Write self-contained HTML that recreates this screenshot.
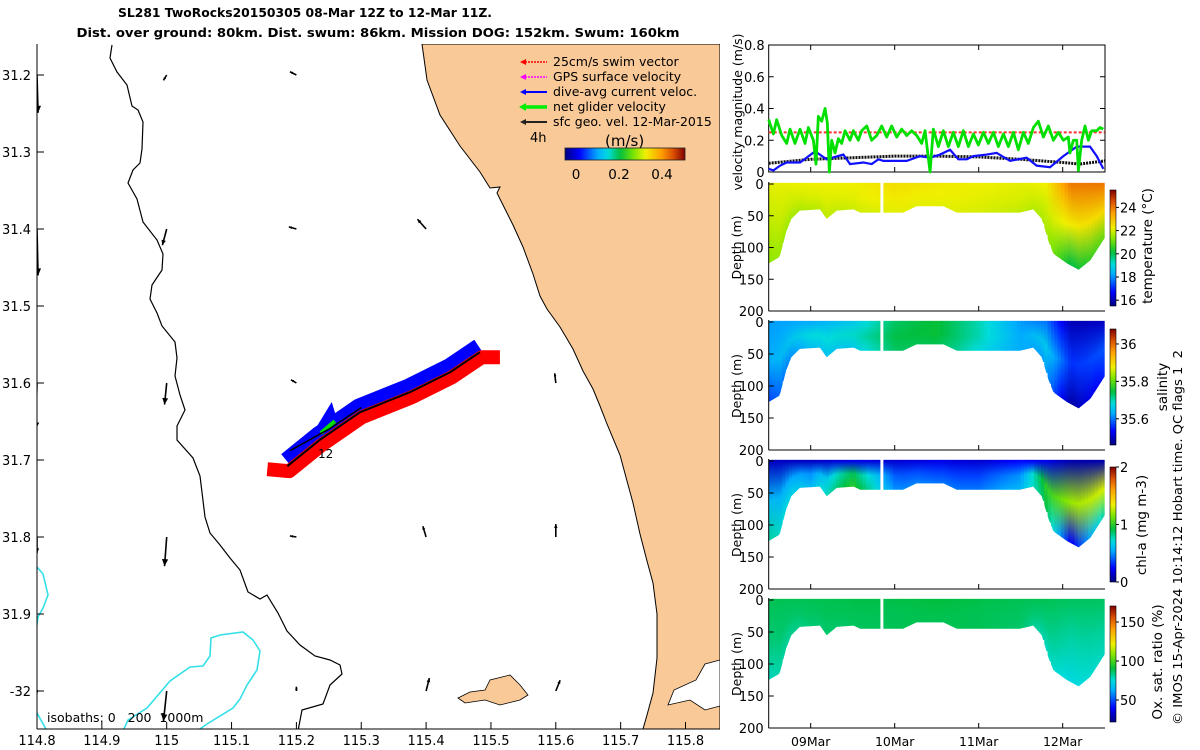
<!DOCTYPE html>
<html><head><meta charset="utf-8"><style>
html,body{margin:0;padding:0;background:#fff}
svg{display:block;font-family:"DejaVu Sans","Liberation Sans",sans-serif}
</style></head><body>
<svg id="fig" width="1200" height="750" viewBox="0 0 1200 750" xmlns="http://www.w3.org/2000/svg">
<defs>
<clipPath id="mapclip"><rect x="37" y="44" width="683" height="685"/></clipPath>
</defs>
<text x="305" y="17" text-anchor="middle" font-size="12.5" font-weight="bold" textLength="374" lengthAdjust="spacingAndGlyphs">SL281 TwoRocks20150305 08-Mar 12Z to 12-Mar 11Z.</text>
<text x="378" y="37" text-anchor="middle" font-size="12.5" font-weight="bold" textLength="603" lengthAdjust="spacingAndGlyphs">Dist. over ground: 80km. Dist. swum: 86km. Mission DOG: 152km. Swum: 160km</text>

<g id="map" clip-path="url(#mapclip)">
  <rect x="37" y="44" width="683" height="685" fill="#fff"/>
  <path fill="#f9c998" stroke="#000" stroke-width="1" d="M422,44 L427,80 L440,115 L460,146 L480,172 L490,188 L500,187 L497,193 L513,225 L523,247 L533,274 L540,296 L547,309 L560,327 L573,349 L583,371 L593,389 L600,406 L607,424 L620,455 L627,481 L633,503 L640,534 L647,561 L653,583 L657,614 L657,658 L653,693 L647,715 L643,729 L720,729 L720,44 Z"/>
  <path fill="#fff" stroke="#000" stroke-width="0.8" d="M720,660 L705,664 L696,680 L674,690 L668,705 L690,700 L705,710 L720,706 Z"/>
  <path fill="#f9c998" stroke="#000" stroke-width="0.8" d="M458,698 L470,692 L485,690 L490,680 L510,675 L520,685 L528,695 L520,700 L500,705 L485,700 L465,703 Z"/>
  <polyline fill="none" stroke="#000" stroke-width="1.2" points="112,45 110,58 117,72 127,85 132,106 138,110 143,122 142,149 140,163 133,170 128,183 137,199 143,222 157,240 163,254 162,270 152,285 150,299 157,313 162,326 175,342 177,358 175,376 180,395 185,410 177,426 177,440 193,458 200,476 205,517 210,533 220,545 230,558 240,570 248,592 260,599 267,595 278,613 287,631 300,645 315,656 330,660 340,665 342,674 330,685 323,704 302,710 298,731"/>
  <polyline fill="none" stroke="#33e0e8" stroke-width="1.6" points="37,567 43,574 48,595 43,608 38,617 36,631"/>
  <polyline fill="none" stroke="#33e0e8" stroke-width="1.6" points="37,713 47,731"/>
  <polyline fill="none" stroke="#33e0e8" stroke-width="1.6" points="123,731 128,720 147,708 170,681 190,667 203,666 210,656 211,638 220,635 243,632 253,640 260,651 257,670 247,685 240,699 233,708 207,724 197,731"/>
  <g id="vectors"></g>
  <g id="track"></g>
  <text x="318" y="458" font-size="12">12</text>
  <text x="47" y="722" font-size="12.5" style="white-space:pre">isobaths: 0   200  1000m</text>
  <g font-size="12.5">
    <line x1="522" y1="62" x2="547" y2="62" stroke="#f00" stroke-dasharray="2,1" stroke-width="1.5"/><path d="M520,62 l6,-3 v6z" fill="#f00"/>
    <text x="553" y="66">25cm/s swim vector</text>
    <line x1="522" y1="77" x2="547" y2="77" stroke="#f0f" stroke-dasharray="2,1" stroke-width="1.5"/><path d="M520,77 l6,-3 v6z" fill="#f0f"/>
    <text x="553" y="81">GPS surface velocity</text>
    <line x1="522" y1="92" x2="547" y2="92" stroke="#00f" stroke-width="2"/><path d="M520,92 l6,-3 v6z" fill="#00f"/>
    <text x="553" y="96">dive-avg current veloc.</text>
    <line x1="522" y1="107" x2="547" y2="107" stroke="#0e0" stroke-width="3.5"/><path d="M519,107 l7,-4 v8z" fill="#0e0"/>
    <text x="553" y="111">net glider velocity</text>
    <line x1="522" y1="122" x2="547" y2="122" stroke="#222" stroke-width="2"/><path d="M520,122 l6,-3 v6z" fill="#222"/>
    <text x="553" y="126">sfc geo. vel. 12-Mar-2015</text>
    <text x="530" y="142" font-size="13">4h</text>
    <text x="605" y="146" font-size="15">(m/s)</text>
    <rect x="565" y="148" width="120" height="12" fill="url(#jetH)" stroke="#222" stroke-width="0.8"/>
    <text x="576" y="179" text-anchor="middle" font-size="13.5">0</text>
    <text x="619" y="179" text-anchor="middle" font-size="13.5">0.2</text>
    <text x="662" y="179" text-anchor="middle" font-size="13.5">0.4</text>
  </g>
</g>
<g id="mapaxes"></g>

<g id="velpanel"></g>
<g id="sections"></g>

<text transform="translate(1182,725) rotate(-90)" font-size="12.5" textLength="375" lengthAdjust="spacingAndGlyphs" style="white-space:pre">© IMOS 15-Apr-2024 10:14:12 Hobart time. QC flags 1  2</text>
</svg>
<script>
// ---------- velocity panel data ----------
const greenDays=[0,0.056,0.095,0.155,0.214,0.254,0.313,0.373,0.433,0.472,0.532,0.563,0.591,0.631,0.671,0.698,0.722,0.750,0.790,0.829,0.869,0.909,0.968,1.008,1.067,1.107,1.167,1.226,1.286,1.345,1.405,1.464,1.524,1.583,1.643,1.702,1.762,1.821,1.861,1.921,1.960,2.020,2.079,2.139,2.198,2.258,2.317,2.377,2.437,2.496,2.556,2.615,2.675,2.734,2.794,2.853,2.913,2.972,3.032,3.091,3.151,3.210,3.270,3.329,3.389,3.448,3.508,3.567,3.587,3.627,3.667,3.687,3.726,3.766,3.806,3.845,3.905,3.944,3.984];
const greenVals=[0.33,0.24,0.33,0.23,0.18,0.27,0.18,0.27,0.18,0.28,0.20,0.05,0.35,0.32,0.40,0.31,0.0,0.20,0.12,0.21,0.18,0.26,0.20,0.26,0.20,0.26,0.29,0.20,0.23,0.29,0.22,0.29,0.22,0.27,0.23,0.26,0.23,0.18,0.26,0.0,0.27,0.16,0.26,0.16,0.25,0.16,0.26,0.16,0.24,0.17,0.25,0.18,0.25,0.16,0.24,0.16,0.25,0.14,0.25,0.18,0.28,0.32,0.22,0.29,0.20,0.25,0.20,0.22,0.12,0.20,0.20,0.01,0.20,0.29,0.20,0.26,0.26,0.28,0.27];
const blueDays=[0,0.056,0.135,0.214,0.373,0.552,0.690,0.889,0.968,1.127,1.226,1.306,1.365,1.643,1.802,1.921,2.040,2.159,2.258,2.357,2.437,2.595,2.714,2.873,3.071,3.190,3.349,3.508,3.667,3.825,3.905,3.984];
const blueVals=[0.02,0.01,0.04,0.06,0.06,0.13,0.08,0.11,0.05,0.06,0.05,0.08,0.07,0.07,0.10,0.09,0.11,0.14,0.08,0.08,0.10,0.11,0.12,0.07,0.09,0.04,0.03,0.10,0.16,0.16,0.10,0.02];
const geoDays=[0,0.5,1,1.5,2,2.5,3,3.5,3.7,4];
const geoVals=[0.055,0.08,0.09,0.1,0.1,0.095,0.08,0.06,0.05,0.07];
const swimDays=[0,4];
const swimVals=[0.25,0.25];
const velTicks=[0,0.2,0.4,0.6,0.8];
const dateTicks=[0.5,1.5,2.5,3.5];
const dateLabels=["09Mar","10Mar","11Mar","12Mar"];
const depthTicks=[0,50,100,150,200];

// ---------- section data ----------
const bottomDays=[0,0.13,0.21,0.27,0.37,0.61,0.69,0.81,1.01,1.09,1.32,1.37,1.60,1.76,2.08,2.24,2.99,3.15,3.25,3.33,3.39,3.55,3.69,3.83,4.0];
const bottomDepth=[125,115,75,55,42,40,55,42,40,45,45,45,45,35,35,45,45,40,55,90,110,125,135,120,85];
const gapDays=[1.33,1.365];
const valDays=[0,0.5,1.0,1.5,2.0,2.5,3.0,3.3,3.6,4.0];
const tempSurf=[22.1,22.2,22.2,22.5,22.3,22.2,22.1,22.2,24.0,24.0];
const tempMid=[21.8,22.0,22.1,22.3,22.2,22.1,22.0,21.9,22.3,22.6];
const tempDeep=[21.4,21.7,21.9,22.1,22.1,22.0,21.8,21.6,20.0,21.0];
const salSurf=[35.62,35.63,35.66,35.73,35.75,35.70,35.62,35.60,35.49,35.50];
const salMid=[35.63,35.68,35.69,35.74,35.75,35.70,35.63,35.66,35.56,35.58];
const salDeep=[35.57,35.65,35.66,35.73,35.74,35.68,35.63,35.62,35.48,35.55];
const chlSurf=[0.12,0.12,0.2,0.15,0.2,0.15,0.25,0.2,0.08,0.08];
const chlMid=[0.6,0.5,0.9,0.4,0.35,0.35,0.5,1.0,1.2,1.3];
const chlDeep=[0.8,0.6,1.0,0.5,0.45,0.45,0.6,0.9,0.2,0.8];
const oxySurf=[88,88,89,89,90,89,88,88,87,87];
const oxyMid=[85,87,88,88,89,88,87,84,80,82];
const oxyDeep=[78,85,87,88,88,88,86,78,74,78];
const tempCbTicks=[16,18,20,22,24];
const salCbTicks=[35.6,35.8,36];
const chlCbTicks=[0,1,2];
const oxyCbTicks=[50,100,150];

// ---------- map data ----------
const vecLons=[114.8,115.0,115.2,115.4,115.6];
const vecLats=[31.2,31.4,31.6,31.8,32.0];
const vecU=[[0.01,-0.03,-0.06,null,null],[0.01,-0.04,-0.07,-0.08,null],[-0.01,-0.02,-0.05,null,-0.01],[0,-0.02,-0.06,-0.03,0.0],[0,-0.03,0,0.03,0.04]];
const vecV=[[-0.35,-0.05,0.03,null,null],[-0.43,-0.15,0.02,0.09,null],[-0.43,-0.2,0.03,null,0.09],[-0.15,-0.27,0.01,0.1,0.12],[-0.02,-0.28,0.04,0.12,0.1]];
const trackLon=[115.186,115.236,115.298,115.375,115.437,115.483];
const trackLat=[31.708,31.674,31.638,31.612,31.586,31.560];
const returnLon=[115.190,115.25,115.30];
const returnLat=[31.688,31.660,31.632];
const xTickLons=[114.8,114.9,115,115.1,115.2,115.3,115.4,115.5,115.6,115.7,115.8];
const xTickLabels=["114.8","114.9","115","115.1","115.2","115.3","115.4","115.5","115.6","115.7","115.8"];
const yTickLats=[31.2,31.3,31.4,31.5,31.6,31.7,31.8,31.9,32.0];
const yTickLabels=["31.2","31.3","31.4","31.5","31.6","31.7","31.8","31.9","-32"];

const NS="http://www.w3.org/2000/svg";
function mk(tag,attrs,parent){const e=document.createElementNS(NS,tag);for(const k in attrs)e.setAttribute(k,attrs[k]);if(parent)parent.appendChild(e);return e;}
function clamp(v){return Math.max(0,Math.min(1,v));}
const CM=[[0,[0,0,128]],[0.12,[0,0,255]],[0.27,[0,170,255]],[0.36,[0,220,220]],[0.46,[0,190,60]],[0.58,[130,230,0]],[0.67,[240,240,0]],[0.8,[255,160,0]],[0.9,[220,80,0]],[1,[128,0,0]]];
function jet(t){t=clamp(t);for(let i=1;i<CM.length;i++){if(t<=CM[i][0]){const f=(t-CM[i-1][0])/(CM[i][0]-CM[i-1][0]);const a=CM[i-1][1],b=CM[i][1];return `rgb(${Math.round(a[0]+f*(b[0]-a[0]))},${Math.round(a[1]+f*(b[1]-a[1]))},${Math.round(a[2]+f*(b[2]-a[2]))})`;}}return 'rgb(128,0,0)';}
function interp(xs,ys,x){if(x<=xs[0])return ys[0];for(let i=1;i<xs.length;i++){if(x<=xs[i]){const f=(x-xs[i-1])/(xs[i]-xs[i-1]);return ys[i-1]+f*(ys[i]-ys[i-1]);}}return ys[ys.length-1];}

const svg=document.getElementById('fig');
const defs=svg.querySelector('defs');
function jetGrad(id,vertical){const g=mk('linearGradient',{id:id,x1:0,y1:vertical?1:0,x2:vertical?0:1,y2:0},defs);for(let i=0;i<=40;i++){mk('stop',{offset:(i/40),'stop-color':jet(i/40)},g);}}
jetGrad('jetH',false);jetGrad('jetV',true);

// ---------- map ----------
const lonX=lon=>37+(lon-114.8)*648.5;
const latY=lat=>75+(lat-31.2)*770;
const K=108;
const vg=document.getElementById('vectors');
for(let r=0;r<vecLats.length;r++)for(let c=0;c<vecLons.length;c++){
  const u=vecU[r][c],v=vecV[r][c];if(u===null||v===null)continue;
  const x0=lonX(vecLons[c]),y0=latY(vecLats[r]);const x1=x0+u*K,y1=y0-v*K;
  const L=Math.hypot(x1-x0,y1-y0)||1;const ux=(x1-x0)/L,uy=(y1-y0)/L;const h=Math.min(7,Math.max(3,L*0.3));
  const ln=mk('line',{x1:x0,y1:y0,x2:x1,y2:y1,stroke:'#000','stroke-width':1.6},vg);
  
  
  const hd=mk('path',{d:`M${x1},${y1} L${x1-ux*h-uy*h*0.45},${y1-uy*h+ux*h*0.45} L${x1-ux*h+uy*h*0.45},${y1-uy*h-ux*h*0.45}Z`,fill:'#000'},vg);
  
  
}
const tg=document.getElementById('track');
function trackPts(dx,dy,extL,extR){const pts=trackLon.map((lo,i)=>[lonX(lo)+dx,latY(trackLat[i])+dy]);if(extL){pts.unshift([pts[0][0]-extL,pts[0][1]-2]);}if(extR){pts.push([pts[pts.length-1][0]+extR,pts[pts.length-1][1]]);}return pts.map(p=>p.join(',')).join(' ');}
const blueBand=mk('polyline',{points:trackPts(-2,-7,0,0),fill:'none',stroke:'#0000ff','stroke-width':13,'stroke-linejoin':'round'},tg);


const blueTri=mk('polygon',{points:`${lonX(trackLon[0])-2},${latY(trackLat[0])+12} ${lonX(trackLon[1])+12},${latY(trackLat[1])-38} ${lonX(trackLon[1])+22},${latY(trackLat[1])-5}`,fill:'#0000ff'},tg);


const redBand=mk('polyline',{points:trackPts(2,5,22,18),fill:'none',stroke:'#ff0000','stroke-width':14,'stroke-linejoin':'round'},tg);


const grn=mk('line',{x1:lonX(returnLon[1])-8,y1:latY(returnLat[1])+4,x2:lonX(returnLon[1])+6,y2:latY(returnLat[1])-8,stroke:'#00e000','stroke-width':4},tg);


const trk=mk('polyline',{points:trackPts(0,0,0,0),fill:'none',stroke:'#000','stroke-width':2},tg);


const rtk=mk('polyline',{points:returnLon.map((lo,i)=>lonX(lo)+','+latY(returnLat[i])).join(' '),fill:'none',stroke:'#000','stroke-width':1.5},tg);



const ma=document.getElementById('mapaxes');
mk('line',{x1:37,y1:44,x2:37,y2:729,stroke:'#000','stroke-width':1},ma);
mk('line',{x1:37,y1:729,x2:720,y2:729,stroke:'#000','stroke-width':1},ma);
xTickLons.forEach((lo,i)=>{const x=lonX(lo);mk('line',{x1:x,y1:729,x2:x,y2:722,stroke:'#000'},ma);
  const t=mk('text',{x:x,y:745,'text-anchor':'middle','font-size':13},ma);t.textContent=xTickLabels[i];
  
  });
yTickLats.forEach((la,i)=>{const y=latY(la);mk('line',{x1:37,y1:y,x2:44,y2:y,stroke:'#000'},ma);
  const t=mk('text',{x:31,y:y+5,'text-anchor':'end','font-size':13},ma);t.textContent=yTickLabels[i];
  
  });

// ---------- time axis ----------
const X0=768.7,X1=1105;
const tX=d=>X0+d*84;

const vp=document.getElementById('velpanel');
const VT=45,VB=172;
const vY=v=>VB-v*((VB-VT)/0.8);
mk('rect',{x:X0,y:VT,width:X1-X0,height:VB-VT,fill:'#fff',stroke:'#000','stroke-width':1},vp);
velTicks.forEach(v=>{const y=vY(v);mk('line',{x1:X0,y1:y,x2:X0+5,y2:y,stroke:'#000'},vp);mk('line',{x1:X1,y1:y,x2:X1-5,y2:y,stroke:'#000'},vp);
  const t=mk('text',{x:X0-4,y:y+5,'text-anchor':'end','font-size':13},vp);t.textContent=String(v);
  
  });
dateTicks.forEach(d=>{mk('line',{x1:tX(d),y1:VB,x2:tX(d),y2:VB-5,stroke:'#000'},vp);mk('line',{x1:tX(d),y1:VT,x2:tX(d),y2:VT+5,stroke:'#000'},vp);});
function series(days,vals,attrs,name){const p=mk('polyline',Object.assign({points:days.map((d,i)=>tX(d)+','+vY(vals[i])).join(' '),fill:'none'},attrs),vp);
  
  }
series(swimDays,swimVals,{stroke:'#ff3030','stroke-width':2,'stroke-dasharray':'3,2'},'swim-speed-line');
series(geoDays,geoVals,{stroke:'#111','stroke-width':3,'stroke-dasharray':'2,1'},'sfc-geo-velocity-line');
series(blueDays,blueVals,{stroke:'#1010ff','stroke-width':2.2},'dive-avg-current-line');
series(greenDays,greenVals,{stroke:'#00e000','stroke-width':2.8,'stroke-linejoin':'round'},'net-glider-velocity-line');
const vl=mk('text',{transform:`translate(742,112) rotate(-90)`,'text-anchor':'middle','font-size':12.5},vp);vl.textContent='velocity magnitude (m/s)';



const sec=document.getElementById('sections');
const panels=[
 {name:'temperature',top:184,bot:311,surf:tempSurf,mid:tempMid,deep:tempDeep,vmin:15.5,vmax:25.5,cbTop:190,cbBot:306,ticks:tempCbTicks,label:'temperature (°C)',lx:1152,ly:246},
 {name:'salinity',top:322,bot:450,surf:salSurf,mid:salMid,deep:salDeep,vmin:35.46,vmax:36.08,cbTop:329,cbBot:445,ticks:salCbTicks,label:'salinity',lx:1167,ly:387},
 {name:'chl-a',top:461,bot:589,surf:chlSurf,mid:chlMid,deep:chlDeep,vmin:0,vmax:2,cbTop:467,cbBot:582,ticks:chlCbTicks,label:'chl-a (mg m-3)',lx:1146,ly:525},
 {name:'oxygen',top:600,bot:728,surf:oxySurf,mid:oxyMid,deep:oxyDeep,vmin:21.8,vmax:170.5,cbTop:606,cbBot:722,ticks:oxyCbTicks,label:'Ox. sat. ratio (%)',lx:1162,ly:662}
];
const STEP=0.04;
panels.forEach((P,pi)=>{
  const g=mk('g',{},sec);
  
  
  const dY=z=>P.top+z*(P.bot-P.top)/200;
  const cid='clip'+pi;
  const cp=mk('clipPath',{id:cid},defs);
  let pts=[[tX(0),dY(-2)],[tX(4),dY(-2)]];
  for(let i=bottomDays.length-1;i>=0;i--)pts.push([tX(bottomDays[i]),dY(bottomDepth[i])]);
  mk('polygon',{points:pts.map(p=>p.join(',')).join(' ')},cp);
  const cg=mk('g',{'clip-path':`url(#${cid})`},g);
  const norm=v=>(v-P.vmin)/(P.vmax-P.vmin);
  for(let i=0;i*STEP<4;i++){
    const d=i*STEP+STEP/2;
    const bd=interp(bottomDays,bottomDepth,d);
    const gid=`g${pi}_${i}`;
    const lg=mk('linearGradient',{id:gid,gradientUnits:'userSpaceOnUse',x1:0,y1:dY(0),x2:0,y2:dY(bd)},defs);
    mk('stop',{offset:0,'stop-color':jet(norm(interp(valDays,P.surf,d)))},lg);
    mk('stop',{offset:0.5,'stop-color':jet(norm(interp(valDays,P.mid,d)))},lg);
    mk('stop',{offset:1,'stop-color':jet(norm(interp(valDays,P.deep,d)))},lg);
    const r=mk('rect',{x:tX(i*STEP),y:dY(-2),width:STEP*84+0.6,height:dY(bd)-dY(-2)+2,fill:`url(#${gid})`},cg);
    
    
  }
  const gap=mk('rect',{x:tX(gapDays[0]),y:dY(-3),width:tX(gapDays[1])-tX(gapDays[0]),height:dY(50)-dY(-3),fill:'#fff'},g);
  
  
  mk('line',{x1:X0,y1:P.top-2,x2:X0,y2:P.bot,stroke:'#000'},g);
  mk('line',{x1:X0,y1:P.bot,x2:X1,y2:P.bot,stroke:'#000'},g);
  depthTicks.forEach(z=>{const y=dY(z);mk('line',{x1:X0,y1:y,x2:X0+5,y2:y,stroke:'#000'},g);
    const t=mk('text',{x:X0-5,y:y+5,'text-anchor':'end','font-size':13},g);t.textContent=String(z);
    
    });
  dateTicks.forEach(d=>mk('line',{x1:tX(d),y1:P.bot,x2:tX(d),y2:P.bot-5,stroke:'#000'},g));
  const yl=mk('text',{transform:`translate(741,${(P.top+P.bot)/2}) rotate(-90)`,'text-anchor':'middle','font-size':12.5},g);yl.textContent='Depth (m)';
  
  
  const cb=mk('rect',{x:1110,y:P.cbTop,width:6,height:P.cbBot-P.cbTop,fill:'url(#jetV)',stroke:'#000','stroke-width':0.6},g);
  
  
  const cY=v=>P.cbBot-(v-P.vmin)/(P.vmax-P.vmin)*(P.cbBot-P.cbTop);
  P.ticks.forEach(v=>{const y=cY(v);mk('line',{x1:1116,y1:y,x2:1119,y2:y,stroke:'#000'},g);
    const t=mk('text',{x:1120,y:y+5,'font-size':13},g);t.textContent=String(v);
    
    });
  const cl=mk('text',{transform:`translate(${P.lx},${P.ly}) rotate(-90)`,'text-anchor':'middle','font-size':13.5},g);cl.textContent=P.label;
  
  
});
dateTicks.forEach((d,i)=>{const t=mk('text',{x:tX(d),y:746,'text-anchor':'middle','font-size':12.5},sec);t.textContent=dateLabels[i];
  
  });
</script>
</body></html>
